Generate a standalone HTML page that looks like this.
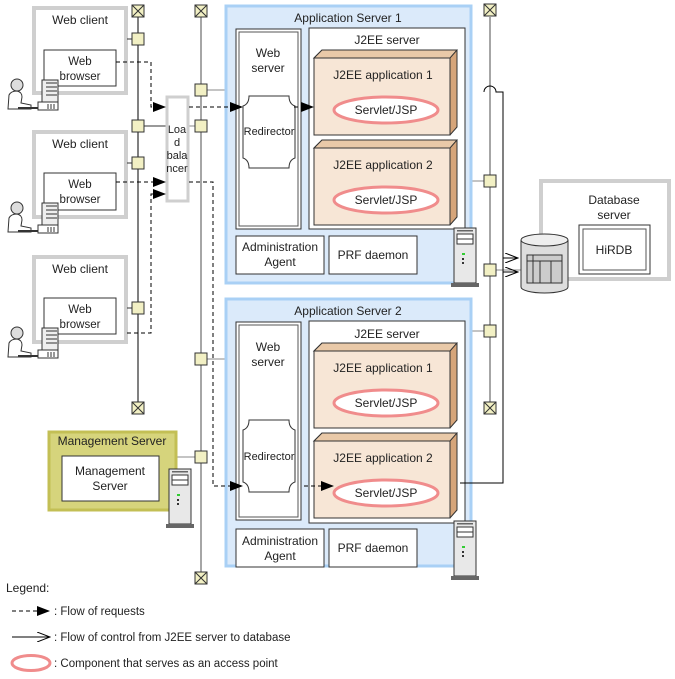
<!DOCTYPE html>
<html><head><meta charset="utf-8"><style>
html,body{margin:0;padding:0;background:#fff;}
svg{display:block;font-family:"Liberation Sans",Arial,sans-serif;}
</style></head><body>
<svg width="675" height="679" viewBox="0 0 675 679" xmlns="http://www.w3.org/2000/svg" font-size="12" fill="#222">
<defs>
<marker id="fa" markerWidth="13" markerHeight="10" refX="12" refY="5" orient="auto" markerUnits="userSpaceOnUse"><path d="M0,0 L13,5 L0,10 Z" fill="#000"/></marker>
<marker id="oa" markerWidth="14" markerHeight="10" refX="13" refY="5" orient="auto" markerUnits="userSpaceOnUse"><path d="M0,0 L13,5 L0,10" fill="none" stroke="#000" stroke-width="1"/></marker>
<g id="sq"><rect x="0" y="0" width="12" height="12" fill="#f2f0c4" stroke="#333" stroke-width="1"/></g>
<g id="term"><rect x="0" y="0" width="12" height="12" fill="#f2f0c4" stroke="#333"/><path d="M0,0 L12,12 M12,0 L0,12" stroke="#333"/></g>
<g id="tower"><rect x="0" y="0" width="22" height="55" fill="#e8e8e8" stroke="#333"/><rect x="3" y="6" width="16" height="5" fill="#fff" stroke="#333"/><rect x="3" y="11" width="16" height="5" fill="#fff" stroke="#333"/><rect x="3" y="2" width="16" height="1.5" fill="#666"/><rect x="8" y="25" width="3" height="2" fill="#3c3"/><rect x="8" y="30" width="2" height="2" fill="#333"/><rect x="8" y="34" width="2" height="2" fill="#333"/><rect x="-3" y="55" width="28" height="4" fill="#666"/></g>
<g id="person"><circle cx="12" cy="6" r="6" fill="#ddd" stroke="#333"/><path d="M3,30 L4,16 Q6,12 12,12 Q17,13 17,18 L16,24 L26,26 L26,30 Z" fill="#fff" stroke="#333"/><rect x="13" y="28" width="20" height="2" fill="#333"/></g>
<g id="pc"><rect x="4" y="0" width="16" height="22" fill="#eee" stroke="#333"/><path d="M8,3 H19 M8,7 H19 M8,11 H19 M8,15 H19" stroke="#333"/><rect x="0" y="22" width="20" height="8" fill="#fff" stroke="#333"/><path d="M10,24 V29 M13,24 V29 M16,24 V29" stroke="#333"/></g>
<g id="app"><path d="M0,8 L8,0 L143,0 L143,77 L136,85 Z" fill="#d6a57a" stroke="#333"/><path d="M0,8 L8,0 L143,0 L136,8 Z" fill="#e9c9a8" stroke="#333"/><rect x="0" y="8" width="136" height="77" fill="#f7e6d6" stroke="#333"/></g>
<g id="redir"><path d="M6,0 H46 Q46,8 52,10 V62 Q46,64 46,72 H6 Q6,64 0,62 V10 Q6,8 6,0 Z" fill="#fff" stroke="#333"/></g>
</defs>

<g fill="none" stroke="#cfcfcf" stroke-width="4">
<rect x="34" y="8" width="92" height="85"/>
<rect x="34" y="132" width="92" height="85"/>
<rect x="34" y="257" width="92" height="85"/>
</g>
<g text-anchor="middle">
<text x="80" y="24">Web client</text><text x="80" y="148">Web client</text><text x="80" y="273">Web client</text>
</g>
<g fill="#fff" stroke="#333">
<rect x="44" y="50" width="72" height="36"/><rect x="44" y="173" width="72" height="37"/><rect x="44" y="298" width="72" height="36"/>
</g>
<g text-anchor="middle" font-size="11.5">
<text x="80" y="65">Web</text><text x="80" y="80">browser</text>
<text x="80" y="188">Web</text><text x="80" y="203">browser</text>
<text x="80" y="313">Web</text><text x="80" y="328">browser</text>
</g>
<use href="#person" x="5" y="79"/><use href="#pc" x="38" y="80"/>
<use href="#person" x="5" y="202"/><use href="#pc" x="38" y="203"/>
<use href="#person" x="5" y="327"/><use href="#pc" x="38" y="328"/>

<line x1="138" y1="17" x2="138" y2="402" stroke="#000"/>
<line x1="201" y1="17" x2="201" y2="572" stroke="#888" stroke-width="1.5"/>
<line x1="490" y1="17" x2="490" y2="402" stroke="#888" stroke-width="1.5"/>
<g stroke="#333">
<line x1="127" y1="39" x2="132" y2="39"/><line x1="127" y1="163" x2="132" y2="163"/><line x1="127" y1="308" x2="132" y2="308"/>
<line x1="144" y1="126" x2="166" y2="126"/><line x1="188" y1="126" x2="195" y2="126" stroke="#888"/>
</g>
<g stroke="#888"><line x1="207" y1="90" x2="226" y2="90"/><line x1="207" y1="359" x2="226" y2="359"/><line x1="177" y1="457" x2="195" y2="457"/>
<line x1="472" y1="181" x2="484" y2="181"/><line x1="465" y1="331" x2="484" y2="331"/><line x1="496" y1="270" x2="521" y2="270"/></g>
<use href="#term" x="132" y="5"/><use href="#term" x="132" y="402"/>
<use href="#term" x="195" y="5"/><use href="#term" x="195" y="572"/>
<use href="#term" x="484" y="4"/><use href="#term" x="484" y="402"/>
<use href="#sq" x="132" y="33"/><use href="#sq" x="132" y="120"/><use href="#sq" x="132" y="157"/><use href="#sq" x="132" y="302"/>
<use href="#sq" x="195" y="84"/><use href="#sq" x="195" y="120"/><use href="#sq" x="195" y="353"/><use href="#sq" x="195" y="451"/>
<use href="#sq" x="484" y="175"/><use href="#sq" x="484" y="264"/><use href="#sq" x="484" y="325"/>

<rect x="167" y="97" width="21" height="104" fill="#fff" stroke="#cfcfcf" stroke-width="3"/>
<g text-anchor="middle" font-size="11"><text x="177" y="133">Loa</text><text x="177" y="146">d</text><text x="177" y="159">bala</text><text x="177" y="172">ncer</text></g>

<rect x="226" y="6" width="245" height="277" fill="#dbeafa" stroke="#a9d0f5" stroke-width="3"/>
<text x="348" y="22" text-anchor="middle">Application Server 1</text>
<rect x="236" y="29" width="65" height="200" fill="#fff" stroke="#333"/><rect x="239" y="32" width="59" height="194" fill="none" stroke="#555"/>
<text x="268" y="57" text-anchor="middle">Web</text><text x="268" y="72" text-anchor="middle">server</text>
<use href="#redir" x="243" y="96"/><text x="269" y="135" text-anchor="middle" font-size="11">Redirector</text>
<rect x="309" y="28" width="156" height="201" fill="#fff" stroke="#333"/>
<text x="387" y="44" text-anchor="middle">J2EE server</text>
<use href="#app" x="314" y="50"/><use href="#app" x="314" y="140"/>
<text x="383" y="79" text-anchor="middle">J2EE application 1</text>
<text x="383" y="169" text-anchor="middle">J2EE application 2</text>
<ellipse cx="386" cy="110" rx="52" ry="13" fill="#fff" stroke="#f08c8c" stroke-width="3"/>
<ellipse cx="386" cy="200" rx="52" ry="13" fill="#fff" stroke="#f08c8c" stroke-width="3"/>
<text x="386" y="114" text-anchor="middle">Servlet/JSP</text><text x="386" y="204" text-anchor="middle">Servlet/JSP</text>
<rect x="236" y="236" width="88" height="38" fill="#fff" stroke="#333"/><rect x="329" y="236" width="88" height="38" fill="#fff" stroke="#333"/>
<text x="280" y="251" text-anchor="middle">Administration</text><text x="280" y="266" text-anchor="middle">Agent</text>
<text x="373" y="259" text-anchor="middle">PRF daemon</text>
<use href="#tower" x="454" y="228"/>

<rect x="226" y="299" width="245" height="267" fill="#dbeafa" stroke="#a9d0f5" stroke-width="3"/>
<text x="348" y="315" text-anchor="middle">Application Server 2</text>
<rect x="236" y="322" width="65" height="198" fill="#fff" stroke="#333"/><rect x="239" y="325" width="59" height="192" fill="none" stroke="#555"/>
<text x="268" y="351" text-anchor="middle">Web</text><text x="268" y="366" text-anchor="middle">server</text>
<use href="#redir" x="243" y="420"/><text x="269" y="460" text-anchor="middle" font-size="11">Redirector</text>
<rect x="309" y="321" width="156" height="202" fill="#fff" stroke="#333"/>
<text x="387" y="338" text-anchor="middle">J2EE server</text>
<use href="#app" x="314" y="343"/><use href="#app" x="314" y="433"/>
<text x="383" y="372" text-anchor="middle">J2EE application 1</text>
<text x="383" y="462" text-anchor="middle">J2EE application 2</text>
<ellipse cx="386" cy="403" rx="52" ry="13" fill="#fff" stroke="#f08c8c" stroke-width="3"/>
<ellipse cx="386" cy="493" rx="52" ry="13" fill="#fff" stroke="#f08c8c" stroke-width="3"/>
<text x="386" y="407" text-anchor="middle">Servlet/JSP</text><text x="386" y="497" text-anchor="middle">Servlet/JSP</text>
<rect x="236" y="529" width="88" height="38" fill="#fff" stroke="#333"/><rect x="329" y="529" width="88" height="38" fill="#fff" stroke="#333"/>
<text x="280" y="545" text-anchor="middle">Administration</text><text x="280" y="560" text-anchor="middle">Agent</text>
<text x="373" y="552" text-anchor="middle">PRF daemon</text>
<use href="#tower" x="454" y="521"/>

<rect x="49" y="432" width="127" height="78" fill="#d6d47c" stroke="#c3bf55" stroke-width="3"/>
<text x="112" y="445" text-anchor="middle">Management Server</text>
<rect x="62" y="456" width="97" height="45" fill="#fff" stroke="#333"/>
<text x="110" y="475" text-anchor="middle">Management</text><text x="110" y="490" text-anchor="middle">Server</text>
<use href="#tower" x="169" y="469"/>

<rect x="541" y="181" width="128" height="98" fill="#fff" stroke="#cfcfcf" stroke-width="4"/>
<text x="614" y="204" text-anchor="middle">Database</text><text x="614" y="219" text-anchor="middle">server</text>
<rect x="579" y="225" width="71" height="49" fill="#fff" stroke="#333"/><rect x="583" y="229" width="63" height="41" fill="none" stroke="#555"/>
<text x="614" y="254" text-anchor="middle">HiRDB</text>
<path d="M521,240 V287 A23.5,6 0 0 0 568,287 V240" fill="#ddd" stroke="#333"/>
<ellipse cx="544.5" cy="240" rx="23.5" ry="6" fill="#eee" stroke="#333"/>
<rect x="527" y="255" width="35" height="28" fill="#ccc" stroke="#333"/>
<path d="M527,261 H562 M533,255 V283 M540,261 V283 M551,261 V283" stroke="#333"/>

<g fill="none" stroke="#000">
<path d="M484,92 A6,6 0 0 1 496,92 H503 V483 H460"/>
<line x1="503" y1="258" x2="518" y2="258" marker-end="url(#oa)"/>
<line x1="503" y1="272" x2="518" y2="272" marker-end="url(#oa)"/>
</g>

<g fill="none" stroke="#000" stroke-dasharray="4,3">
<path d="M116,62 H151 V107 H165" marker-end="url(#fa)"/>
<path d="M189,107 H242" marker-end="url(#fa)"/>
<path d="M294,107 H313" marker-end="url(#fa)"/>
<path d="M116,182 H165" marker-end="url(#fa)"/>
<path d="M127,333 H151 V194 H165" marker-end="url(#fa)"/>
<path d="M189,182 H213 V486 H242" marker-end="url(#fa)"/>
<path d="M304,486 H333" marker-end="url(#fa)"/>
</g>

<text x="6" y="592">Legend:</text>
<line x1="12" y1="611" x2="49" y2="611" stroke="#000" stroke-dasharray="4,3" marker-end="url(#fa)"/>
<text x="54" y="615" font-size="11.5">: Flow of requests</text>
<line x1="12" y1="637" x2="50" y2="637" stroke="#000" marker-end="url(#oa)"/>
<text x="54" y="641" font-size="11.5">: Flow of control from J2EE server to database</text>
<ellipse cx="31" cy="663" rx="19" ry="7.5" fill="#fff" stroke="#f08c8c" stroke-width="3"/>
<text x="54" y="667" font-size="11.5">: Component that serves as an access point</text>
</svg>
</body></html>
